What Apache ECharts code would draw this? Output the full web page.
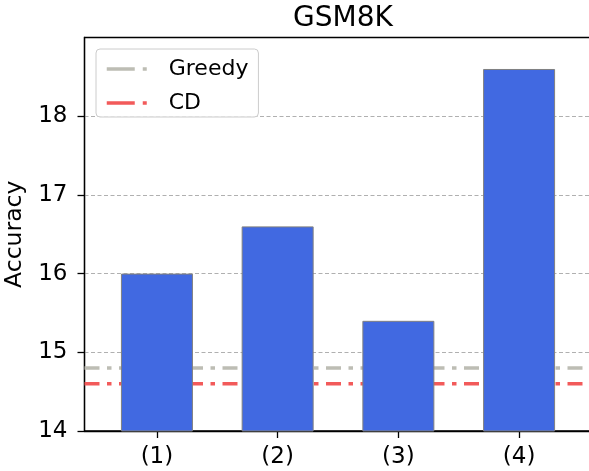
<!DOCTYPE html>
<html>
<head>
<meta charset="utf-8">
<title>GSM8K</title>
<script src="https://cdn.jsdelivr.net/npm/echarts@6/dist/echarts.min.js"></script>
<style>
  html, body { margin: 0; padding: 0; background: #fff; }
  #main { width: 589px; height: 471px; }
</style>
</head>
<body>
<div id="main"></div>
<script>
// data
var categories = ['(1)', '(2)', '(3)', '(4)'];
var positions = [0, 1, 2, 3];
var accuracy = [16.0, 16.6, 15.4, 18.6];
var greedyValue = 14.8;
var cdValue = 14.6;
var yTicks = [14, 15, 16, 17, 18];

var FONT = 'DejaVu Sans';
var X_MIN = -0.6, X_MAX = 3.633;  // right spine falls just outside the picture

var chart = echarts.init(document.getElementById('main'));

var dashDot = [15, 7.5, 4.5, 7.5];

var option = {
  animation: false,
  backgroundColor: '#fff',
  title: {
    text: 'GSM8K',
    left: 338,
    top: 0,
    textAlign: 'center',
    textStyle: { fontFamily: FONT, fontSize: 28, fontWeight: 'normal', color: '#000' }
  },
  legend: {
    orient: 'vertical',
    left: 96,
    top: 49,
    padding: [9, 10, 3, 9],
    itemGap: 12,
    itemWidth: 40,
    itemHeight: 14,
    borderColor: '#cccccc',
    borderWidth: 1,
    borderRadius: 4,
    backgroundColor: 'rgba(255,255,255,0.8)',
    itemStyle: { opacity: 0 },
    textStyle: { fontFamily: FONT, fontSize: 22, color: '#000', padding: [0, 0, 0, 17] },
    lineStyle: { type: [28, 8, 4, 8], width: 3.5 },
    data: ['Greedy', 'CD']
  },
  grid: {
    show: true,
    outerBoundsMode: 'none',
    left: 84.5,
    top: 37.5,
    width: 511,
    height: 393.5,
    borderColor: '#000',
    borderWidth: 1.3,
    backgroundColor: 'transparent'
  },
  xAxis: {
    type: 'value',
    min: X_MIN,
    max: X_MAX,
    axisLine: { show: true, onZero: false, lineStyle: { color: '#000', width: 1.3 } },
    axisTick: { show: true, length: 7, lineStyle: { color: '#000', width: 1.3 }, customValues: positions },
    axisLabel: {
      customValues: positions,
      margin: 15,
      fontFamily: FONT, fontSize: 23, color: '#000',
      formatter: function (v) { return categories[Math.round(v)]; }
    },
    splitLine: { show: false }
  },
  yAxis: {
    type: 'value',
    min: 14,
    max: 19,
    interval: 1,
    name: 'Accuracy',
    nameLocation: 'middle',
    nameRotate: 90,
    nameGap: 54,
    nameTextStyle: { fontFamily: FONT, fontSize: 23.5, color: '#000' },
    axisLine: { show: true, onZero: false, lineStyle: { color: '#000', width: 1.3 } },
    axisTick: { show: true, length: 7, lineStyle: { color: '#000', width: 1.3 }, customValues: yTicks },
    axisLabel: { customValues: yTicks, margin: 17, fontFamily: FONT, fontSize: 23, color: '#000' },
    splitLine: { show: true, lineStyle: { color: '#b0b0b0', width: 1, type: [4, 2.5] } }
  },
  series: [
    {
      name: 'Greedy',
      type: 'line',
      symbol: 'none',
      z: 2,
      color: '#bdbdb4',
      lineStyle: { color: '#bdbdb4', width: 3.5, type: dashDot, cap: 'butt' },
      data: [[X_MIN, greedyValue], [X_MAX, greedyValue]]
    },
    {
      name: 'CD',
      type: 'line',
      symbol: 'none',
      z: 2,
      color: '#f25a5a',
      lineStyle: { color: '#f25a5a', width: 3.5, type: dashDot, cap: 'butt' },
      data: [[X_MIN, cdValue], [X_MAX, cdValue]]
    },
    {
      name: 'acc',
      type: 'bar',
      z: 3,
      barWidth: 72,
      itemStyle: { color: '#4169e1', borderColor: '#808080', borderWidth: 1 },
      data: positions.map(function (p, i) { return [p, accuracy[i]]; })
    }
  ]
};

chart.setOption(option);
</script>
</body>
</html>
